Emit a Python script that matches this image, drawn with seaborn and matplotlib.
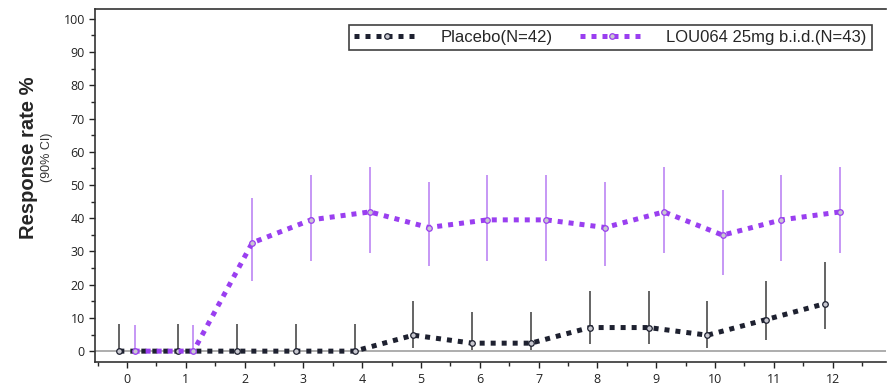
import numpy as np
import pandas as pd
import seaborn as sns
import matplotlib.pyplot as plt
from matplotlib.ticker import MultipleLocator

# Data: response rate by week (with 90% CI)
weeks = [0, 1, 2, 3, 4, 5, 6, 7, 8, 9, 10, 11, 12]

placebo_rate = [0, 0, 0, 0, 0, 4.8, 2.4, 2.4, 7.1, 7.1, 4.8, 9.5, 14.3]
placebo_lo = [0, 0, 0, 0, 0, 1.0, 0.4, 0.4, 2.0, 2.0, 1.0, 3.5, 6.6]
placebo_hi = [8.1, 8.1, 8.1, 8.1, 8.1, 15.0, 11.7, 11.7, 18.0, 18.0, 15.0, 21.0, 26.7]

lou_rate = [0, 0, 32.6, 39.5, 41.9, 37.2, 39.5, 39.5, 37.2, 41.9, 34.9, 39.5, 41.9]
lou_lo = [0, 0, 21.0, 27.0, 29.5, 25.5, 27.0, 27.0, 25.5, 29.5, 23.0, 27.0, 29.5]
lou_hi = [8.0, 8.0, 46.0, 53.0, 55.5, 51.0, 53.0, 53.0, 51.0, 55.5, 48.5, 53.0, 55.5]

groups = ['Placebo(N=42)', 'LOU064 25mg b.i.d.(N=43)']

sns.set_style('ticks')
plt.rcParams['font.family'] = ['Liberation Sans', 'DejaVu Sans']

df = pd.concat([
    pd.DataFrame({'week': np.array(weeks) - 0.13, 'rate': placebo_rate,
                  'lo': placebo_lo, 'hi': placebo_hi, 'group': groups[0]}),
    pd.DataFrame({'week': np.array(weeks) + 0.13, 'rate': lou_rate,
                  'lo': lou_lo, 'hi': lou_hi, 'group': groups[1]}),
])

line_cols = {groups[0]: '#1e2130', groups[1]: '#9a3ff0'}
bar_cols = {groups[0]: '#3a3a3a', groups[1]: '#b77af2'}

fig = plt.figure(figsize=(8.9, 3.84), dpi=100)
ax = fig.add_axes([0.107, 0.057, 0.888, 0.920])

ax.axhline(0, color='#a0a0a0', lw=1.2, zorder=1)

for g in groups:
    sub = df[df['group'] == g]
    ax.vlines(sub['week'], sub['lo'], sub['hi'], color=bar_cols[g], lw=1.1, zorder=2)

n_before = len(ax.lines)
sns.lineplot(data=df, x='week', y='rate', hue='group', palette=line_cols,
             ax=ax, lw=3.6, marker='o', markersize=4, markerfacecolor='#c8c8d0',
             markeredgewidth=0.9, zorder=3, legend=True)
for ln in ax.lines[n_before:]:
    ln.set_dashes([1.0, 1.2])
    ln.set_dash_capstyle('butt')
    ln.set_markeredgecolor(ln.get_color())

ax.set_xlim(-0.54, 12.9)
ax.set_ylim(-3.3, 103)
ax.set_xticks(weeks)
ax.set_yticks(range(0, 101, 10))
ax.xaxis.set_minor_locator(MultipleLocator(0.5))
ax.yaxis.set_minor_locator(MultipleLocator(5))
ax.tick_params(which='major', length=4, width=1, labelsize=9, colors='#222222')
ax.tick_params(which='minor', length=3, width=1)
for lab in ax.get_xticklabels() + ax.get_yticklabels():
    lab.set_family('Open Sans')
ax.set_xlabel('')
ax.set_ylabel('')
for s in ['left', 'bottom', 'top']:
    ax.spines[s].set_color('#333333')
    ax.spines[s].set_linewidth(1.2)
ax.spines['right'].set_visible(False)

fig.text(0.032, 0.59, 'Response rate %', rotation=90, fontsize=14.5,
         fontweight='bold', ha='center', va='center')
fig.text(0.053, 0.59, '(90% CI)', rotation=90, fontsize=9,
         ha='center', va='center', color='#333333')

handles, labels = ax.get_legend_handles_labels()
for h in handles:
    h.set_dashes([1.0, 1.2])
    h.set_markeredgecolor(h.get_color())
leg = ax.legend(handles, labels, loc='upper right', ncol=2, frameon=True,
                fancybox=False, edgecolor='#111111', fontsize=12,
                bbox_to_anchor=(0.993, 0.977), handlelength=3.9,
                borderpad=0.3, columnspacing=1.6, handletextpad=1.3)
leg.get_frame().set_linewidth(1.2)

fig.savefig('out.png', dpi=100)
